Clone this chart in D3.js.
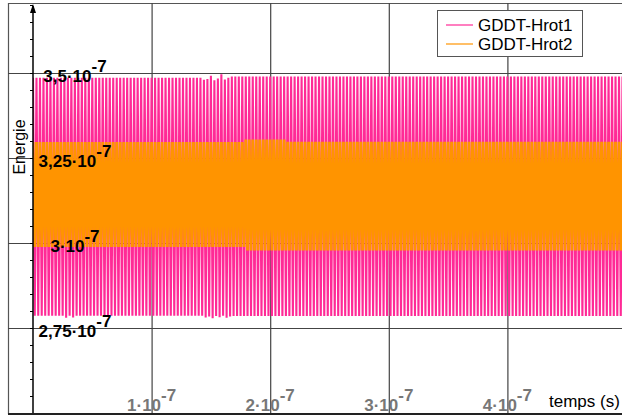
<!DOCTYPE html>
<html><head><meta charset="utf-8">
<script src="https://cdn.jsdelivr.net/npm/d3@7"></script>
<style>
html,body{margin:0;padding:0;background:#fff;}
svg{display:block;font-family:"Liberation Sans",Arial,Helvetica,sans-serif;}
</style></head>
<body><svg id="c" width="622" height="419"></svg>
<script>
// ---- data (energy in units of 1e-7, time in units of 1e-7 s) ----
const yTickValues = [2.75, 3.0, 3.25, 3.5];
const yTickLabels = ["2,75·10", "3·10", "3,25·10", "3,5·10"];
const xTickValues = [1, 2, 3, 4];
const xTickLabels = ["1·10", "2·10", "3·10", "4·10"];
const tickExponent = "-7";
const seriesNames = ["GDDT-Hrot1", "GDDT-Hrot2"];
const tMax = 5;
// peak (high) and trough (low) of each oscillation cycle
const pinkHi = [
3.486,3.486,3.486,3.486,3.486,3.486,3.486,3.486,3.486,3.486,
3.486,3.486,3.486,3.486,3.486,3.486,3.486,3.486,3.486,3.486,
3.486,3.486,3.486,3.486,3.486,3.486,3.486,3.486,3.486,3.486,
3.486,3.486,3.486,3.486,3.486,3.486,3.486,3.486,3.486,3.486,
3.486,3.486,3.486,3.486,3.486,3.486,3.486,3.486,3.486,3.480,
3.482,3.492,3.479,3.484,3.496,3.481,3.486,3.490,3.490,3.490,
3.490,3.490,3.490,3.490,3.490,3.490,3.490,3.490,3.490,3.490,
3.490,3.490,3.490,3.490,3.490,3.490,3.490,3.490,3.490,3.490,
3.490,3.490,3.490,3.490,3.490,3.490,3.490,3.490,3.490,3.490,
3.490,3.490,3.490,3.490,3.490,3.490,3.490,3.490,3.490,3.490,
3.490,3.490,3.490,3.490,3.490,3.490,3.490,3.490,3.490,3.490,
3.490,3.490,3.490,3.490,3.490,3.490,3.490,3.490,3.490,3.490,
3.490,3.490,3.490,3.490,3.490,3.490,3.490,3.490,3.490,3.490,
3.490,3.490,3.490,3.490,3.490,3.490,3.490,3.490,3.490,3.490,
3.490,3.490,3.490,3.490,3.490,3.490,3.490,3.490,3.490,3.490,
3.490,3.490,3.490,3.490,3.490,3.490,3.490,3.490,3.490,3.490,
3.490,3.490,3.490,3.490,3.490,3.490,3.490,3.490,3.490,3.490];
const pinkLo = [
2.786,2.786,2.786,2.786,2.786,2.786,2.786,2.786,2.786,2.780,
2.786,2.781,2.786,2.786,2.786,2.786,2.786,2.786,2.786,2.786,
2.786,2.786,2.786,2.786,2.786,2.786,2.786,2.786,2.786,2.786,
2.786,2.786,2.786,2.786,2.786,2.786,2.786,2.786,2.786,2.786,
2.786,2.786,2.786,2.786,2.786,2.786,2.786,2.786,2.786,2.781,
2.784,2.779,2.785,2.782,2.786,2.780,2.784,2.785,2.785,2.785,
2.785,2.785,2.785,2.785,2.785,2.785,2.785,2.785,2.785,2.785,
2.785,2.785,2.785,2.785,2.785,2.785,2.785,2.785,2.785,2.785,
2.785,2.785,2.785,2.785,2.785,2.785,2.785,2.785,2.785,2.785,
2.785,2.785,2.785,2.785,2.785,2.785,2.785,2.785,2.785,2.785,
2.785,2.785,2.785,2.785,2.785,2.785,2.785,2.785,2.785,2.785,
2.785,2.785,2.785,2.785,2.785,2.785,2.785,2.785,2.785,2.785,
2.785,2.785,2.785,2.785,2.785,2.785,2.785,2.785,2.785,2.785,
2.785,2.785,2.785,2.785,2.785,2.785,2.785,2.785,2.785,2.785,
2.785,2.785,2.785,2.785,2.785,2.785,2.785,2.785,2.785,2.785,
2.785,2.785,2.785,2.785,2.785,2.785,2.785,2.785,2.785,2.785,
2.785,2.785,2.785,2.785,2.785,2.785,2.785,2.785,2.785,2.785];
const orangeHi = [
3.297,3.297,3.297,3.297,3.297,3.297,3.297,3.297,3.297,3.297,
3.297,3.297,3.297,3.297,3.297,3.297,3.297,3.297,3.297,3.297,
3.297,3.297,3.297,3.297,3.297,3.297,3.297,3.297,3.297,3.297,
3.297,3.297,3.297,3.297,3.297,3.297,3.297,3.297,3.297,3.297,
3.297,3.297,3.297,3.297,3.297,3.297,3.297,3.297,3.297,3.297,
3.297,3.297,3.297,3.297,3.297,3.297,3.297,3.297,3.297,3.297,
3.297,3.304,3.304,3.304,3.304,3.304,3.304,3.304,3.304,3.304,
3.304,3.304,3.304,3.298,3.298,3.298,3.298,3.298,3.298,3.298,
3.298,3.298,3.298,3.298,3.298,3.298,3.298,3.298,3.298,3.298,
3.298,3.298,3.298,3.298,3.298,3.298,3.298,3.298,3.298,3.298,
3.298,3.298,3.298,3.298,3.298,3.298,3.298,3.298,3.298,3.298,
3.298,3.298,3.298,3.298,3.298,3.298,3.298,3.298,3.298,3.298,
3.298,3.298,3.298,3.298,3.298,3.298,3.298,3.298,3.298,3.298,
3.298,3.298,3.298,3.298,3.298,3.298,3.298,3.298,3.298,3.298,
3.298,3.298,3.298,3.298,3.298,3.298,3.298,3.298,3.298,3.298,
3.298,3.298,3.298,3.298,3.298,3.298,3.298,3.298,3.298,3.298,
3.298,3.298,3.298,3.298,3.298,3.298,3.298,3.298,3.298,3.298];
const orangeLo = [
2.988,2.988,2.988,2.988,2.988,2.988,2.988,2.988,2.988,2.988,
2.988,2.988,2.988,2.988,2.988,2.988,2.988,2.988,2.988,2.988,
2.988,2.988,2.988,2.988,2.988,2.988,2.988,2.988,2.988,2.988,
2.988,2.988,2.988,2.988,2.988,2.988,2.988,2.988,2.988,2.988,
2.988,2.988,2.988,2.988,2.988,2.988,2.988,2.988,2.988,2.988,
2.988,2.988,2.988,2.988,2.988,2.988,2.988,2.988,2.988,2.988,
2.988,2.978,2.978,2.978,2.978,2.978,2.978,2.978,2.978,2.978,
2.978,2.978,2.978,2.978,2.978,2.978,2.978,2.978,2.978,2.978,
2.978,2.978,2.978,2.978,2.978,2.978,2.978,2.978,2.978,2.978,
2.978,2.978,2.978,2.978,2.978,2.978,2.978,2.978,2.978,2.978,
2.978,2.978,2.978,2.978,2.978,2.978,2.978,2.978,2.978,2.978,
2.978,2.978,2.978,2.978,2.978,2.978,2.978,2.978,2.978,2.978,
2.978,2.978,2.978,2.978,2.978,2.978,2.978,2.978,2.978,2.978,
2.978,2.978,2.978,2.978,2.978,2.978,2.978,2.978,2.978,2.978,
2.978,2.978,2.978,2.978,2.978,2.978,2.978,2.978,2.978,2.978,
2.978,2.978,2.978,2.978,2.978,2.978,2.978,2.978,2.978,2.978,
2.978,2.978,2.978,2.978,2.978,2.978,2.978,2.978,2.978,2.978];

// ---- layout ----
const svg = d3.select("#c");
const W = 622, H = 419;
const frameL = 8, frameT = 3, axisY = 414, axisX = 33;
const x = d3.scaleLinear().domain([0, 5]).range([33, 626]);
const y = d3.scaleLinear().domain([2.75, 3.5]).range([328, 73]);
const colors = ["#ff2a96", "#ff9400"];
const widths = [2.1, 2.8];

// frame
svg.append("line").attr("x1", frameL + 0.5).attr("x2", frameL + 0.5).attr("y1", frameT).attr("y2", axisY)
  .attr("stroke", "#555").attr("stroke-width", 1.2);
svg.append("line").attr("x1", frameL).attr("x2", W).attr("y1", frameT + 0.5).attr("y2", frameT + 0.5)
  .attr("stroke", "#555").attr("stroke-width", 1.2);

// grid
const gy = svg.append("g").attr("transform", `translate(${frameL},0)`)
  .call(d3.axisLeft(y).tickValues(yTickValues).tickSize(-(W - frameL)).tickFormat(""));
gy.select(".domain").remove();
gy.selectAll("line").attr("stroke", "#444").attr("stroke-width", 1.2);
const gx = svg.append("g").attr("transform", `translate(0,${axisY})`)
  .call(d3.axisBottom(x).tickValues(xTickValues).tickSize(-(axisY - frameT)).tickFormat(""));
gx.select(".domain").remove();
gx.selectAll("line").attr("stroke", "#444").attr("stroke-width", 1.2);

// series
function build(hi, lo) {
  const n = hi.length, T = tMax / n, pts = [];
  for (let i = 0; i < n; i++) {
    pts.push([i * T, hi[i]]);
    pts.push([(i + 0.5) * T, lo[i]]);
  }
  return pts;
}
const line = d3.line().x(d => x(d[0])).y(d => y(d[1]));
svg.append("clipPath").attr("id", "clip").append("rect")
  .attr("x", axisX).attr("y", frameT).attr("width", W - axisX).attr("height", axisY - frameT);
const plot = svg.append("g").attr("clip-path", "url(#clip)");
[[pinkHi, pinkLo], [orangeHi, orangeLo]].forEach((s, k) => {
  plot.append("path").attr("d", line(build(s[0], s[1])))
    .attr("fill", "none").attr("stroke", colors[k]).attr("stroke-width", widths[k])
    .attr("stroke-linejoin", "bevel");
});

// y axis (minor ticks)
const minor = d3.range(2.5, 3.71, 0.05);
const ya = svg.append("g").attr("transform", `translate(${axisX},0)`)
  .call(d3.axisLeft(y).tickValues(minor).tickSize(3).tickFormat(""));
ya.select(".domain").remove();
ya.selectAll("line").attr("stroke", "#000");
svg.append("line").attr("x1", axisX).attr("x2", axisX).attr("y1", 6).attr("y2", axisY)
  .attr("stroke", "#000").attr("stroke-width", 1.5);
svg.append("path").attr("d", `M${axisX - 3},13 L${axisX},4 L${axisX + 3},13 Z`).attr("fill", "#000");

// x axis line
svg.append("line").attr("x1", frameL).attr("x2", W).attr("y1", axisY).attr("y2", axisY)
  .attr("stroke", "#222").attr("stroke-width", 2);

// y labels
const yl = svg.append("g").selectAll("text").data(yTickValues).join("text")
  .attr("x", 75).attr("y", d => y(d) + 8.5)
  .attr("text-anchor", "middle").attr("font-size", 17).attr("font-weight", "bold").attr("fill", "#000");
yl.append("tspan").text((d, i) => yTickLabels[i]);
yl.append("tspan").attr("dy", -10).text(tickExponent);

// x labels
const xl = svg.append("g").selectAll("text").data(xTickValues).join("text")
  .attr("x", d => x(d)).attr("y", 411)
  .attr("text-anchor", "middle").attr("font-size", 17).attr("font-weight", "bold").attr("fill", "#777");
xl.append("tspan").text((d, i) => xTickLabels[i]);
xl.append("tspan").attr("dy", -10).text(tickExponent);

// axis titles
svg.append("text").attr("x", 549).attr("y", 407).attr("font-size", 17).attr("fill", "#000").text("temps (s)");
svg.append("text").attr("transform", "translate(25,147) rotate(-90)").attr("text-anchor", "middle")
  .attr("font-size", 16).attr("fill", "#000").text("Energie");

// legend
const lg = svg.append("g");
lg.append("rect").attr("x", 437.5).attr("y", 10.5).attr("width", 145).attr("height", 46)
  .attr("fill", "#fff").attr("stroke", "#555");
seriesNames.forEach((nm, k) => {
  const ly = 25 + k * 19;
  lg.append("line").attr("x1", 446).attr("x2", 473).attr("y1", ly).attr("y2", ly)
    .attr("stroke", colors[k]).attr("stroke-width", 1.2);
  lg.append("text").attr("x", 478).attr("y", ly + 5.5).attr("font-size", 17).attr("fill", "#000").text(nm);
});
</script></body></html>
